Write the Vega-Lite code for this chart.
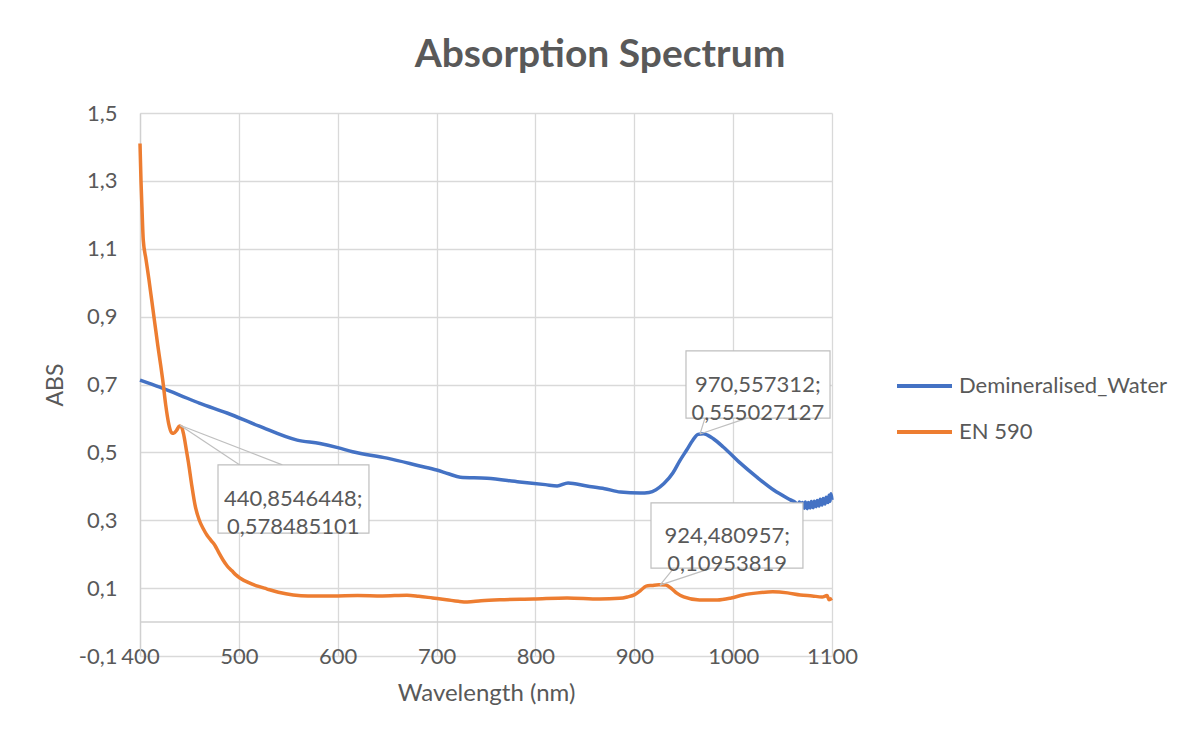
{
  "$schema": "https://vega.github.io/schema/vega-lite/v6.json",
  "autosize": "none",
  "width": 692,
  "height": 543,
  "padding": {"left": 140, "top": 113, "right": 359, "bottom": 78},
  "background": "white",
  "title": {"text": "Absorption Spectrum", "font": "Lato", "fontSize": 39, "fontWeight": "bold", "color": "#595959", "anchor": "middle", "frame": "group", "dx": 114, "offset": 27},
  "datasets": {
    "spectra": [
      {"wl": 400, "abs": 0.713, "series": "Demineralised_Water"},
      {"wl": 420, "abs": 0.692, "series": "Demineralised_Water"},
      {"wl": 440, "abs": 0.669, "series": "Demineralised_Water"},
      {"wl": 460, "abs": 0.645, "series": "Demineralised_Water"},
      {"wl": 488, "abs": 0.616, "series": "Demineralised_Water"},
      {"wl": 520, "abs": 0.578, "series": "Demineralised_Water"},
      {"wl": 559, "abs": 0.536, "series": "Demineralised_Water"},
      {"wl": 582, "abs": 0.526, "series": "Demineralised_Water"},
      {"wl": 600, "abs": 0.514, "series": "Demineralised_Water"},
      {"wl": 615, "abs": 0.502, "series": "Demineralised_Water"},
      {"wl": 650, "abs": 0.483, "series": "Demineralised_Water"},
      {"wl": 683, "abs": 0.460, "series": "Demineralised_Water"},
      {"wl": 700, "abs": 0.448, "series": "Demineralised_Water"},
      {"wl": 712, "abs": 0.437, "series": "Demineralised_Water"},
      {"wl": 724, "abs": 0.427, "series": "Demineralised_Water"},
      {"wl": 751, "abs": 0.424, "series": "Demineralised_Water"},
      {"wl": 784, "abs": 0.413, "series": "Demineralised_Water"},
      {"wl": 810, "abs": 0.405, "series": "Demineralised_Water"},
      {"wl": 822, "abs": 0.401, "series": "Demineralised_Water"},
      {"wl": 833, "abs": 0.410, "series": "Demineralised_Water"},
      {"wl": 852, "abs": 0.401, "series": "Demineralised_Water"},
      {"wl": 870, "abs": 0.393, "series": "Demineralised_Water"},
      {"wl": 886, "abs": 0.383, "series": "Demineralised_Water"},
      {"wl": 906, "abs": 0.380, "series": "Demineralised_Water"},
      {"wl": 915, "abs": 0.382, "series": "Demineralised_Water"},
      {"wl": 922, "abs": 0.390, "series": "Demineralised_Water"},
      {"wl": 930, "abs": 0.408, "series": "Demineralised_Water"},
      {"wl": 939, "abs": 0.439, "series": "Demineralised_Water"},
      {"wl": 946, "abs": 0.475, "series": "Demineralised_Water"},
      {"wl": 953, "abs": 0.507, "series": "Demineralised_Water"},
      {"wl": 959, "abs": 0.535, "series": "Demineralised_Water"},
      {"wl": 964.5, "abs": 0.553, "series": "Demineralised_Water"},
      {"wl": 970, "abs": 0.555, "series": "Demineralised_Water"},
      {"wl": 974, "abs": 0.551, "series": "Demineralised_Water"},
      {"wl": 980, "abs": 0.540, "series": "Demineralised_Water"},
      {"wl": 990, "abs": 0.516, "series": "Demineralised_Water"},
      {"wl": 1007, "abs": 0.469, "series": "Demineralised_Water"},
      {"wl": 1024, "abs": 0.427, "series": "Demineralised_Water"},
      {"wl": 1041, "abs": 0.389, "series": "Demineralised_Water"},
      {"wl": 1058, "abs": 0.360, "series": "Demineralised_Water"},
      {"wl": 1063, "abs": 0.352, "series": "Demineralised_Water"},
      {"wl": 1066, "abs": 0.343, "series": "Demineralised_Water"},
      {"wl": 1067, "abs": 0.354, "series": "Demineralised_Water"},
      {"wl": 1069, "abs": 0.338, "series": "Demineralised_Water"},
      {"wl": 1070, "abs": 0.352, "series": "Demineralised_Water"},
      {"wl": 1072, "abs": 0.335, "series": "Demineralised_Water"},
      {"wl": 1073, "abs": 0.354, "series": "Demineralised_Water"},
      {"wl": 1075, "abs": 0.334, "series": "Demineralised_Water"},
      {"wl": 1076, "abs": 0.352, "series": "Demineralised_Water"},
      {"wl": 1078, "abs": 0.336, "series": "Demineralised_Water"},
      {"wl": 1079, "abs": 0.355, "series": "Demineralised_Water"},
      {"wl": 1081, "abs": 0.337, "series": "Demineralised_Water"},
      {"wl": 1082, "abs": 0.356, "series": "Demineralised_Water"},
      {"wl": 1084, "abs": 0.340, "series": "Demineralised_Water"},
      {"wl": 1085, "abs": 0.358, "series": "Demineralised_Water"},
      {"wl": 1087, "abs": 0.342, "series": "Demineralised_Water"},
      {"wl": 1088, "abs": 0.362, "series": "Demineralised_Water"},
      {"wl": 1090, "abs": 0.345, "series": "Demineralised_Water"},
      {"wl": 1091, "abs": 0.364, "series": "Demineralised_Water"},
      {"wl": 1093, "abs": 0.348, "series": "Demineralised_Water"},
      {"wl": 1094, "abs": 0.368, "series": "Demineralised_Water"},
      {"wl": 1096, "abs": 0.352, "series": "Demineralised_Water"},
      {"wl": 1097, "abs": 0.374, "series": "Demineralised_Water"},
      {"wl": 1098, "abs": 0.356, "series": "Demineralised_Water"},
      {"wl": 1099, "abs": 0.378, "series": "Demineralised_Water"},
      {"wl": 1100, "abs": 0.360, "series": "Demineralised_Water"},
      {"wl": 400, "abs": 1.41, "series": "EN 590"},
      {"wl": 401, "abs": 1.30, "series": "EN 590"},
      {"wl": 402, "abs": 1.22, "series": "EN 590"},
      {"wl": 403.3, "abs": 1.126, "series": "EN 590"},
      {"wl": 406, "abs": 1.07, "series": "EN 590"},
      {"wl": 409, "abs": 1.01, "series": "EN 590"},
      {"wl": 412, "abs": 0.945, "series": "EN 590"},
      {"wl": 415, "abs": 0.88, "series": "EN 590"},
      {"wl": 418, "abs": 0.815, "series": "EN 590"},
      {"wl": 421, "abs": 0.755, "series": "EN 590"},
      {"wl": 423, "abs": 0.713, "series": "EN 590"},
      {"wl": 426, "abs": 0.64, "series": "EN 590"},
      {"wl": 429, "abs": 0.585, "series": "EN 590"},
      {"wl": 432, "abs": 0.558, "series": "EN 590"},
      {"wl": 434, "abs": 0.556, "series": "EN 590"},
      {"wl": 437, "abs": 0.565, "series": "EN 590"},
      {"wl": 440, "abs": 0.578, "series": "EN 590"},
      {"wl": 442, "abs": 0.575, "series": "EN 590"},
      {"wl": 444, "abs": 0.555, "series": "EN 590"},
      {"wl": 447, "abs": 0.505, "series": "EN 590"},
      {"wl": 449, "abs": 0.47, "series": "EN 590"},
      {"wl": 452, "abs": 0.41, "series": "EN 590"},
      {"wl": 456, "abs": 0.34, "series": "EN 590"},
      {"wl": 460, "abs": 0.30, "series": "EN 590"},
      {"wl": 464, "abs": 0.275, "series": "EN 590"},
      {"wl": 468, "abs": 0.255, "series": "EN 590"},
      {"wl": 472, "abs": 0.24, "series": "EN 590"},
      {"wl": 476, "abs": 0.225, "series": "EN 590"},
      {"wl": 480, "abs": 0.203, "series": "EN 590"},
      {"wl": 484, "abs": 0.183, "series": "EN 590"},
      {"wl": 488, "abs": 0.166, "series": "EN 590"},
      {"wl": 493, "abs": 0.151, "series": "EN 590"},
      {"wl": 497, "abs": 0.139, "series": "EN 590"},
      {"wl": 501, "abs": 0.130, "series": "EN 590"},
      {"wl": 510, "abs": 0.116, "series": "EN 590"},
      {"wl": 520, "abs": 0.105, "series": "EN 590"},
      {"wl": 528, "abs": 0.098, "series": "EN 590"},
      {"wl": 540, "abs": 0.088, "series": "EN 590"},
      {"wl": 555, "abs": 0.080, "series": "EN 590"},
      {"wl": 570, "abs": 0.077, "series": "EN 590"},
      {"wl": 595, "abs": 0.077, "series": "EN 590"},
      {"wl": 620, "abs": 0.078, "series": "EN 590"},
      {"wl": 645, "abs": 0.077, "series": "EN 590"},
      {"wl": 670, "abs": 0.079, "series": "EN 590"},
      {"wl": 682, "abs": 0.076, "series": "EN 590"},
      {"wl": 696, "abs": 0.071, "series": "EN 590"},
      {"wl": 710, "abs": 0.066, "series": "EN 590"},
      {"wl": 722, "abs": 0.061, "series": "EN 590"},
      {"wl": 731, "abs": 0.059, "series": "EN 590"},
      {"wl": 745, "abs": 0.063, "series": "EN 590"},
      {"wl": 764, "abs": 0.066, "series": "EN 590"},
      {"wl": 798, "abs": 0.068, "series": "EN 590"},
      {"wl": 832, "abs": 0.071, "series": "EN 590"},
      {"wl": 865, "abs": 0.068, "series": "EN 590"},
      {"wl": 885, "abs": 0.070, "series": "EN 590"},
      {"wl": 893, "abs": 0.074, "series": "EN 590"},
      {"wl": 900, "abs": 0.080, "series": "EN 590"},
      {"wl": 906, "abs": 0.092, "series": "EN 590"},
      {"wl": 912, "abs": 0.106, "series": "EN 590"},
      {"wl": 918, "abs": 0.108, "series": "EN 590"},
      {"wl": 925, "abs": 0.110, "series": "EN 590"},
      {"wl": 932, "abs": 0.109, "series": "EN 590"},
      {"wl": 938, "abs": 0.098, "series": "EN 590"},
      {"wl": 943, "abs": 0.085, "series": "EN 590"},
      {"wl": 950, "abs": 0.074, "series": "EN 590"},
      {"wl": 966, "abs": 0.065, "series": "EN 590"},
      {"wl": 984, "abs": 0.065, "series": "EN 590"},
      {"wl": 998, "abs": 0.071, "series": "EN 590"},
      {"wl": 1010, "abs": 0.080, "series": "EN 590"},
      {"wl": 1025, "abs": 0.086, "series": "EN 590"},
      {"wl": 1040, "abs": 0.089, "series": "EN 590"},
      {"wl": 1055, "abs": 0.086, "series": "EN 590"},
      {"wl": 1068, "abs": 0.080, "series": "EN 590"},
      {"wl": 1080, "abs": 0.077, "series": "EN 590"},
      {"wl": 1090, "abs": 0.074, "series": "EN 590"},
      {"wl": 1095, "abs": 0.078, "series": "EN 590"},
      {"wl": 1097, "abs": 0.066, "series": "EN 590"},
      {"wl": 1100, "abs": 0.070, "series": "EN 590"}
    ],
    "callouts": [
      {"wl": 1025, "wl2": 952.3, "wl3": 1098, "abs": 0.700, "abs2": 0.799, "abs3": 0.601, "label": ["970,557312;", "0,555027127"]},
      {"wl": 555, "wl2": 478.9, "wl3": 631.6, "abs": 0.3625, "abs2": 0.463, "abs3": 0.262, "label": ["440,8546448;", "0,578485101"]},
      {"wl": 994, "wl2": 916.9, "wl3": 1070.6, "abs": 0.255, "abs2": 0.351, "abs3": 0.159, "label": ["924,480957;", "0,10953819"]}
    ],
    "wedges": [
      {"wl": 966.5, "abs": 0.554, "wl2": 971.5, "abs2": 0.601},
      {"wl": 966.5, "abs": 0.554, "wl2": 1014, "abs2": 0.601},
      {"wl": 440.5, "abs": 0.580, "wl2": 501, "abs2": 0.463},
      {"wl": 440.5, "abs": 0.580, "wl2": 544, "abs2": 0.463},
      {"wl": 926, "abs": 0.109, "wl2": 940, "abs2": 0.159},
      {"wl": 926, "abs": 0.109, "wl2": 978, "abs2": 0.159}
    ]
  },
  "layer": [
    {
      "data": {"values": [{"zero": 0}]},
      "mark": {"type": "rule", "color": "#D0D0D0", "strokeWidth": 1.5},
      "encoding": {"y": {"field": "zero", "type": "quantitative"}}
    },
    {
      "data": {"name": "spectra"},
      "mark": {"type": "line", "strokeWidth": 3.5, "interpolate": "monotone"},
      "encoding": {
        "x": {
          "field": "wl", "type": "quantitative",
          "scale": {"domain": [400, 1100], "nice": false, "zero": false},
          "axis": {
            "values": [400, 500, 600, 700, 800, 900, 1000, 1100],
            "format": "d",
            "grid": true, "gridColor": "#D9D9D9", "gridWidth": 1.3,
            "domain": false, "ticks": false,
            "labelFont": "Lato", "labelFontSize": 22, "labelColor": "#595959",
            "labelBaseline": "middle", "labelPadding": 0, "labelFlush": false, "labelOverlap": false,
            "title": "Wavelength (nm)", "titleFont": "Lato", "titleFontSize": 24, "titleFontWeight": "normal",
            "titleColor": "#595959", "titleY": 37, "titleBaseline": "middle"
          }
        },
        "y": {
          "field": "abs", "type": "quantitative",
          "scale": {"domain": [-0.1, 1.5], "nice": false, "zero": false},
          "axis": {
            "values": [-0.1, 0.1, 0.3, 0.5, 0.7, 0.9, 1.1, 1.3, 1.5],
            "labelExpr": "replace(replace(format(datum.value, '.1f'), '.', ','), '\u2212', '-')",
            "grid": true, "gridColor": "#D9D9D9", "gridWidth": 1.3,
            "domain": true, "domainColor": "#D0D0D0", "domainWidth": 1.3, "ticks": false,
            "labelFont": "Lato", "labelFontSize": 22, "labelColor": "#595959",
            "labelPadding": 23, "labelOverlap": false,
            "title": "ABS", "titleFont": "Lato", "titleFontSize": 23, "titleFontWeight": "normal",
            "titleColor": "#595959", "titleX": -85, "titleY": 271.5, "titleBaseline": "middle", "titleAngle": -90, "titleAlign": "center"
          }
        },
        "color": {
          "field": "series", "type": "nominal",
          "scale": {"domain": ["Demineralised_Water", "EN 590"], "range": ["#4472C4", "#ED7D31"]},
          "legend": {
            "title": null, "orient": "none", "legendX": 755, "legendY": 261,
            "symbolType": "stroke", "symbolSize": 3025, "symbolStrokeWidth": 4,
            "clipHeight": 24, "rowPadding": 22, "labelOffset": 5, "padding": 0, "labelLimit": 400,
            "labelFont": "Lato", "labelFontSize": 22, "labelColor": "#595959"
          }
        }
      }
    },
    {
      "data": {"name": "wedges"},
      "mark": {"type": "rule", "color": "#BFBFBF", "strokeWidth": 1.2},
      "encoding": {
        "x": {"field": "wl", "type": "quantitative"},
        "y": {"field": "abs", "type": "quantitative"},
        "x2": {"field": "wl2"},
        "y2": {"field": "abs2"}
      }
    },
    {
      "data": {"name": "callouts"},
      "mark": {"type": "rect", "fill": "white", "stroke": "#BFBFBF", "strokeWidth": 1.2},
      "encoding": {
        "x": {"field": "wl2", "type": "quantitative"},
        "x2": {"field": "wl3"},
        "y": {"field": "abs2", "type": "quantitative"},
        "y2": {"field": "abs3"}
      }
    },
    {
      "data": {"name": "callouts"},
      "mark": {"type": "text", "font": "Lato", "fontSize": 22, "color": "#595959", "align": "center", "baseline": "middle", "lineHeight": 28},
      "encoding": {
        "x": {"field": "wl", "type": "quantitative"},
        "y": {"field": "abs", "type": "quantitative"},
        "text": {"field": "label"}
      }
    }
  ],
  "config": {"view": {"stroke": null}, "font": "Lato"}
}
